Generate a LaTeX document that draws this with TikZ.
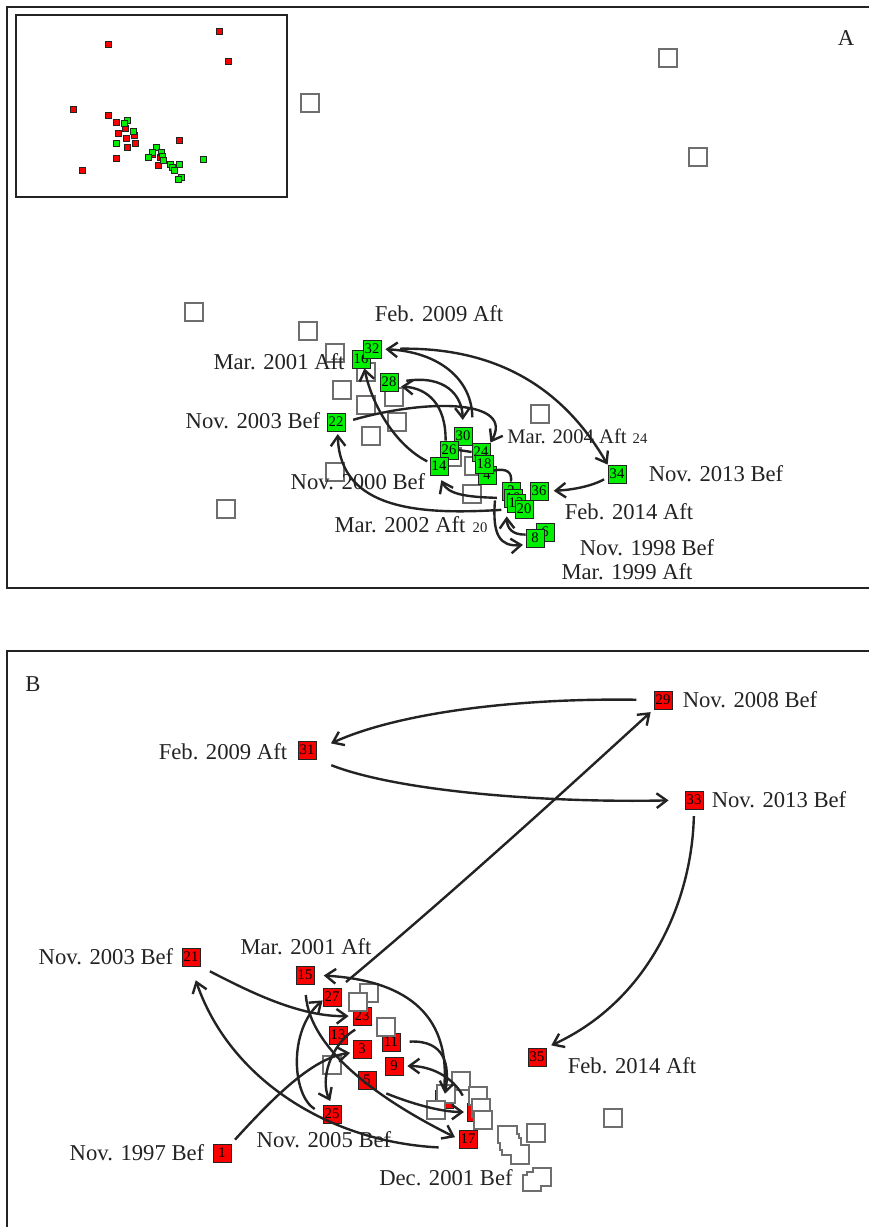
\documentclass[tikz,border=0pt]{standalone}
\usepackage{fontspec}
\setmainfont{Liberation Serif}
\usepackage{xcolor}
\usetikzlibrary{arrows.meta}
\definecolor{grn}{RGB}{0,240,0}
\definecolor{rd}{RGB}{250,0,0}
\definecolor{edg}{RGB}{35,35,35}
\definecolor{sqg}{RGB}{110,110,110}
\tikzset{
	gbox/.style={draw=edg, line width=0.6pt, fill=grn, minimum size=13.5pt, inner sep=0pt, font=\fontsize{11}{12}\selectfont},
	rbox/.style={gbox, fill=rd},
	esq/.style={draw=sqg, line width=0.8pt, fill=white},
	conn/.style={line width=1.8pt, draw=edg, -{Straight Barb[length=7.5pt,width=11pt]}},
	link/.style={line width=1.8pt, draw=edg},
	lbl/.style={inner sep=0pt, text=edg, font=\fontsize{17}{20}\selectfont},
	sml/.style={inner sep=0pt, text=edg, font=\fontsize{11}{12}\selectfont},
	frm/.style={line width=1pt, draw=edg},
	rpt/.style={fill=rd, draw=edg, line width=0.5pt},
	gpt/.style={fill=grn, draw=edg, line width=0.5pt}
}

\begin{document}
\begin{tikzpicture}[x=0.75pt,y=0.75pt,yscale=-1,xscale=1]
	\useasboundingbox (0,0) rectangle (868,1227);

	%frames
	\draw [frm] (880,588) -- (7,588) -- (7,7) -- (880,7);
	\draw [frm] (880,651) -- (7,651) -- (7,1240);

	%inset
	\draw [frm] (16,15) rectangle (287,197);
	\foreach \x/\y in {219/31,108/44,228/61,73/109,108/115,116/122,125/128,118/133,126/138,134/135,135/143,127/147,116/158,82/170,179/140,158/165,152/154,160/157}
		\draw [rpt] (\x-3,\y-3) rectangle ++(6,6);
	\foreach \x/\y in {127/120,124/123,133/131,116/143,156/147,152/152,148/157,161/152,162/156,163/160,170/164,172/167,174/170,179/164,203/159,181/177,178/179}
		\draw [gpt] (\x-3,\y-3) rectangle ++(6,6);

	%% panel A
	\foreach \x/\y in {668/58,310/103,698/157,194/312,308/331,335/353,342/390,366/405,397/422,371/436,335/472,226/509,540/414,366/372,394/397,452/457,474/466,472/494}
		\draw [esq] (\x-9,\y-9) rectangle ++(18,18);

	\node [lbl] (A) at (846,38) {A};
	\node [lbl] (tA1) at (439,314) {Feb. 2009 Aft};
	\node [lbl] (tA2) at (279,362) {Mar. 2001 Aft};
	\node [lbl] (tA3) at (253,421) {Nov. 2003 Bef};
	\node [lbl, font=\fontsize{15.5}{18}\selectfont] (tA4) at (567,436) {Mar. 2004 Aft};
	\node [sml] (tA4n) at (640,439) {24};
	\node [lbl] (tA5) at (358,482) {Nov. 2000 Bef};
	\node [lbl] (tA6) at (716,474) {Nov. 2013 Bef};
	\node [lbl] (tA7) at (629,512) {Feb. 2014 Aft};
	\node [lbl] (tA8) at (400,525) {Mar. 2002 Aft};
	\node [sml] (tA8n) at (480,528) {20};
	\node [lbl] (tA9) at (647,548) {Nov. 1998 Bef};
	\node [lbl] (tA10) at (627,572) {Mar. 1999 Aft};

	\path (361,359) node [gbox] (g16) {16} (372,349) node [gbox] (g32) {32}
		(389,382) node [gbox] (g28) {28} (336,422) node [gbox] (g22) {22}
		(463,436) node [gbox] (g30) {30} (449,450) node [gbox] (g26) {26}
		(439,466) node [gbox] (g14) {14} (481,452) node [gbox] (g24) {24}
		(487,475) node [gbox] (g4) {4} (484,464) node [gbox] (g18) {18}
		(511,491) node [gbox] (g2) {2} (513,498) node [gbox] (g10) {10}
		(516,503) node [gbox] (g12) {12} (524,509) node [gbox] (g20) {20}
		(539,491) node [gbox] (g36) {36} (545,532) node [gbox] (g6) {6}
		(535,538) node [gbox] (g8) {8} (617,474) node [gbox] (g34) {34};

	\draw [conn, shorten <=14pt] (g32.east) .. controls (510,347) and (570,400) .. (g34.north west);
	\draw [conn, shorten <=7pt, shorten >=3pt] (g30.north east) .. controls (472,380) and (440,352) .. (g32.east);
	\draw [conn, shorten <=6pt, shorten >=5pt] (g28.east) .. controls (445,375) and (462,395) .. (g30.north);
	\draw [conn, shorten >=2pt] (g26.110) .. controls (446,405) and (428,388) .. (g28.-25);
	\draw [conn, shorten <=6pt] (g22.east) .. controls (430,398) and (515,400) .. (g24.north east);
	\draw [conn, shorten <=2pt] (g14.160) .. controls (395,445) and (372,405) .. (g16.-70);
	\draw [conn, shorten <=5pt, shorten >=4pt] (g10.west) .. controls (465,497) and (448,494) .. (g14.south);
	\draw [conn, shorten <=10pt, shorten >=2pt] (g20.west) .. controls (420,515) and (340,510) .. (g22.-80);
	\draw [conn, shorten <=12pt, shorten >=2pt] (g4.south east) .. controls (492,535) and (500,547) .. (g8.215);
	\draw [conn, shorten >=3pt] (g8.160) .. controls (512,535) and (507,528) .. (g12.south west);
	\draw [link] (g18.-35) .. controls (507,468) and (512,472) .. (g2.north);
	\draw [conn, shorten <=3pt, shorten >=4pt] (g34.-160) .. controls (590,487) and (570,490) .. (g36.east);
	\draw [link] (g26.east) -- (g24.west);

	%% panel B
	\node [lbl] (B) at (33,684) {B};
	\node [lbl] (tB1) at (750,700) {Nov. 2008 Bef};
	\node [lbl] (tB2) at (223,752) {Feb. 2009 Aft};
	\node [lbl] (tB3) at (779,800) {Nov. 2013 Bef};
	\node [lbl] (tB4) at (106,957) {Nov. 2003 Bef};
	\node [lbl] (tB5) at (306,947) {Mar. 2001 Aft};
	\node [lbl] (tB6) at (632,1066) {Feb. 2014 Aft};
	\node [lbl] (tB7) at (324,1140) {Nov. 2005 Bef};
	\node [lbl] (tB8) at (137,1153) {Nov. 1997 Bef};
	\node [lbl] (tB9) at (446,1178) {Dec. 2001 Bef};

	\path (663,700) node [rbox] (r29) {29} (307,750) node [rbox] (r31) {31}
		(694,800) node [rbox] (r33) {33} (191,957) node [rbox] (r21) {21}
		(305,975) node [rbox] (r15) {15} (332,997) node [rbox] (r27) {27}
		(362,1016) node [rbox] (r23) {23} (338,1035) node [rbox] (r13) {13}
		(391,1042) node [rbox] (r11) {11} (362,1049) node [rbox] (r3) {3}
		(394,1066) node [rbox] (r9) {9} (367,1080) node [rbox] (r5) {5}
		(332,1114) node [rbox] (r25) {25} (468,1139) node [rbox] (r17) {17}
		(537,1057) node [rbox] (r35) {35} (222,1153) node [rbox] (r1) {1}
		(444,1099) node [rbox] (r7) {} (476,1112) node [rbox] (r19) {};

	\foreach \x/\y in {369/993,358/1002,386/1027,332/1065,461/1081,446/1094,436/1110,478/1096,481/1108,483/1120,536/1133,613/1118}
		\draw [esq] (\x-9,\y-9) rectangle ++(18,18);
	\draw [esq] (498,1126) -- (517,1126) -- (517,1134) -- (519,1134) -- (519,1138) -- (521,1138) -- (521,1145) -- (529,1145) -- (529,1164) -- (511,1164) -- (511,1155) -- (502,1155) -- (502,1150) -- (500,1150) -- (500,1143) -- (498,1143) -- cycle;
	\draw [esq] (533,1168) -- (551,1168) -- (551,1186) -- (541,1186) -- (541,1191) -- (523,1191) -- (523,1175) -- (527,1175) -- (527,1172) -- (533,1172) -- cycle;

	\coordinate (s15) at (346,982);
	\draw [conn, shorten <=13pt, shorten >=12pt] (r29.west) .. controls (520,698) and (400,712) .. (r31.east);
	\draw [conn, shorten <=12pt, shorten >=12pt] (r31.south east) .. controls (400,792) and (550,803) .. (r33.west);
	\draw [conn, shorten <=5pt, shorten >=4pt] (r33.south) .. controls (692,900) and (650,1000) .. (r35.north east);
	\draw [conn, shorten >=3pt] (s15) .. controls (450,895) and (560,795) .. (r29.south west);
	\draw [conn, shorten <=8pt, shorten >=3pt] (r21.south east) .. controls (250,992) and (300,1017) .. (r23.west);
	\draw [conn, shorten <=15pt, shorten >=11pt] (r17.south west) .. controls (330,1142) and (230,1080) .. (r21.south);
	\draw [conn, shorten <=4pt, shorten >=2pt] (r1.north east) .. controls (280,1090) and (315,1058) .. (r3.-160);
	\draw [conn, shorten <=7pt] (r25.west) .. controls (292,1095) and (288,1030) .. (r27.-160);
	\draw [conn, shorten <=6pt, shorten >=3pt] (r23.south) .. controls (330,1045) and (320,1080) .. (r25.north);
	\draw [conn, shorten <=8pt, shorten >=3pt] (r15.south) .. controls (310,1050) and (380,1100) .. (r17.west);
	\draw [conn, shorten <=8pt, shorten >=2pt] (r5.south east) .. controls (410,1103) and (440,1112) .. (r19.west);
	\draw [conn, shorten <=7pt, shorten >=4pt] (r11.east) .. controls (445,1040) and (450,1065) .. (r7.center);
	\draw [conn, shorten <=6pt, shorten >=3pt] (r19.north west) .. controls (452,1076) and (430,1066) .. (r9.east);
	\draw [conn, shorten >=7pt] (r7.north) .. controls (452,1010) and (400,980) .. (r15.east);
\end{tikzpicture}
\end{document}
